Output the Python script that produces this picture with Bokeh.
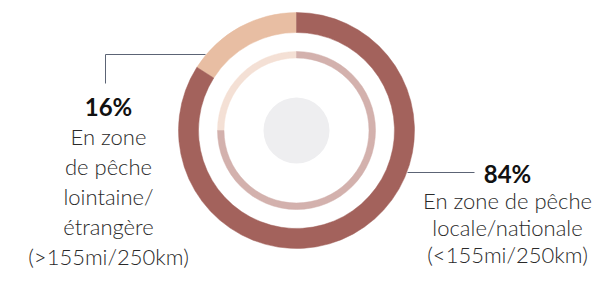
import numpy as np
from bokeh.plotting import figure
from bokeh.models import Range1d, ColumnDataSource
from bokeh.embed import file_html
from bokeh.resources import INLINE
from bokeh.core.properties import value

# ---- data ----
categories = ["En zone de pêche lointaine/étrangère (>155mi/250km)",
              "En zone de pêche locale/nationale (<155mi/250km)"]
shares = [16, 84]
inner_shares = [25, 75]
pct_labels = ["16%", "84%"]
outer_colors = ["#e8bea3", "#a3625c"]
inner_colors = ["#f4e0d5", "#d3b1ad"]
left_lines = ["En zone", "de pêche", "lointaine/", "étrangère", "(>155mi/250km)"]
right_lines = ["En zone de pêche", "locale/nationale", "(<155mi/250km)"]

W, H = 595, 270
p = figure(width=W, height=H, x_range=Range1d(0, W), y_range=Range1d(0, H),
           output_backend="svg", toolbar_location=None, min_border=0)
p.axis.visible = False
p.grid.visible = False
p.outline_line_color = None
p.background_fill_color = "white"
p.border_fill_color = "white"

TXT_SHIFT = 8  # observed downward offset of rendered text baselines


def Y(img_y):
    return H - img_y


def TY(img_y):
    return H - (img_y - TXT_SHIFT)


cx, cy = 296, Y(130)


def wedge_angles(vals):
    v = np.array(vals, dtype=float)
    frac = v / v.sum()
    cum = np.concatenate([[0], np.cumsum(frac)])
    start = np.pi / 2 + 2 * np.pi * cum[:-1]
    end = np.pi / 2 + 2 * np.pi * cum[1:]
    return start, end


s, e = wedge_angles(shares)
outer = ColumnDataSource(dict(x=[cx] * 2, y=[cy] * 2, start=s, end=e, color=outer_colors, cat=categories))
p.annular_wedge(x="x", y="y", inner_radius=98, outer_radius=118, start_angle="start", end_angle="end",
                direction="anticlock", fill_color="color", line_color="color", line_width=0.5, source=outer)

s2, e2 = wedge_angles(inner_shares)
inner = ColumnDataSource(dict(x=[cx] * 2, y=[cy] * 2, start=s2, end=e2, color=inner_colors))
p.annular_wedge(x="x", y="y", inner_radius=72.5, outer_radius=79, start_angle="start", end_angle="end",
                direction="anticlock", fill_color="color", line_color="color", line_width=0.5, source=inner)

p.circle(x=[cx], y=[cy], radius=33, fill_color="#eeeef0", line_color=None)

# leader lines
lead = "#5c6475"
p.line(x=[105, 105, 205], y=[Y(83), Y(54), Y(54)], line_color=lead, line_width=1)
p.line(x=[407, 474], y=[Y(172), Y(172)], line_color=lead, line_width=1)

body_font = value("Lato Light")
bold_font = value("Lato")

# left label
lx = 108
p.text(x=[lx], y=[TY(114)], text=[pct_labels[0]], text_font=bold_font, text_font_style="bold",
       text_font_size="24px", text_align="center", text_baseline="alphabetic", text_color="#111111")
ly = [TY(144 + 30 * i) for i in range(len(left_lines))]
p.text(x=[lx] * len(left_lines), y=ly, text=left_lines, text_font=body_font,
       text_font_size="22px", text_align="center", text_baseline="alphabetic", text_color="#2a2a2a")

# right label
rx = 507
p.text(x=[rx], y=[TY(181)], text=[pct_labels[1]], text_font=bold_font, text_font_style="bold",
       text_font_size="24px", text_align="center", text_baseline="alphabetic", text_color="#111111")
ry = [TY(208 + 27 * i) for i in range(len(right_lines))]
p.text(x=[rx] * len(right_lines), y=ry, text=right_lines, text_font=body_font,
       text_font_size="22px", text_align="center", text_baseline="alphabetic", text_color="#2a2a2a")

open("out.html", "w").write(file_html(p, INLINE))
